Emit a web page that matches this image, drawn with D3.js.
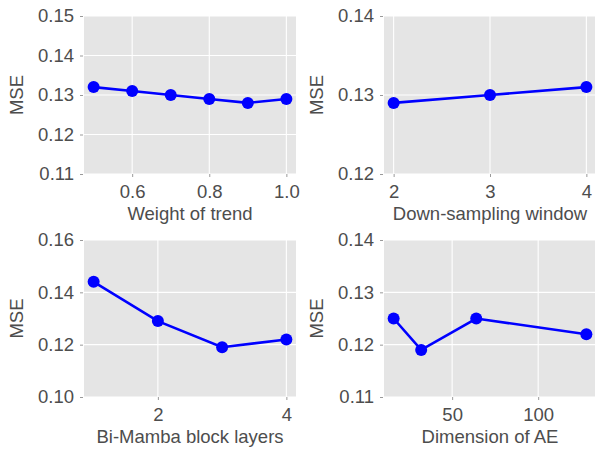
<!DOCTYPE html>
<html>
<head>
<meta charset="utf-8">
<script src="https://cdn.jsdelivr.net/npm/d3@7"></script>
<style>
  body { margin: 0; background: #fff; }
  text { font-family: "Liberation Sans", Arial, sans-serif; }
</style>
</head>
<body>
<svg id="drawing_region"></svg>
<script>
// data
const trend_x = [0.5, 0.6, 0.7, 0.8, 0.9, 1.0];
const trend_y = [0.132, 0.131, 0.130, 0.129, 0.128, 0.129];
const window_x = [2, 3, 4];
const window_y = [0.129, 0.130, 0.131];
const layers_x = [1, 2, 3, 4];
const layers_y = [0.144, 0.129, 0.119, 0.122];
const ae_x = [16, 32, 64, 128];
const ae_y = [0.125, 0.119, 0.125, 0.122];

const trend_xticks = [0.6, 0.8, 1.0];
const trend_yticks = [0.11, 0.12, 0.13, 0.14, 0.15];
const window_xticks = [2, 3, 4];
const window_yticks = [0.12, 0.13, 0.14];
const layers_xticks = [2, 4];
const layers_yticks = [0.10, 0.12, 0.14, 0.16];
const ae_xticks = [50, 100];
const ae_yticks = [0.11, 0.12, 0.13, 0.14];

const svg = d3.select('#drawing_region')
    .attr('width', 595)
    .attr('height', 449);

const panels = [
    {xs: trend_x, ys: trend_y, xticks: trend_xticks, yticks: trend_yticks,
     xfmt: d3.format('.1f'), yfmt: d3.format('.2f'), label: 'Weight of trend',
     left: 84, top: 16, width: 212, height: 158},
    {xs: window_x, ys: window_y, xticks: window_xticks, yticks: window_yticks,
     xfmt: d3.format('d'), yfmt: d3.format('.2f'), label: 'Down-sampling window',
     left: 384, top: 16, width: 212, height: 158},
    {xs: layers_x, ys: layers_y, xticks: layers_xticks, yticks: layers_yticks,
     xfmt: d3.format('d'), yfmt: d3.format('.2f'), label: 'Bi-Mamba block layers',
     left: 84, top: 240, width: 212, height: 157},
    {xs: ae_x, ys: ae_y, xticks: ae_xticks, yticks: ae_yticks,
     xfmt: d3.format('d'), yfmt: d3.format('.2f'), label: 'Dimension of AE',
     left: 384, top: 240, width: 212, height: 157}
];

const font = '"Liberation Sans", Arial, sans-serif';

panels.forEach(p => {
    const g = svg.append('g')
        .attr('transform', `translate(${p.left}, ${p.top})`);

    // ggplot style 5% expansion on x, none on y
    const xext = d3.extent(p.xs);
    const pad = (xext[1] - xext[0]) * 0.05;
    const xscale = d3.scaleLinear()
        .domain([xext[0] - pad, xext[1] + pad])
        .range([0, p.width]);
    const yscale = d3.scaleLinear()
        .domain(d3.extent(p.yticks))
        .range([p.height, 0]);

    g.append('rect')
        .attr('width', p.width)
        .attr('height', p.height)
        .attr('fill', '#e5e5e5');

    g.selectAll('.hgrid')
        .data(p.yticks)
        .enter()
        .append('line')
        .attr('x1', 0)
        .attr('x2', p.width)
        .attr('y1', d => yscale(d))
        .attr('y2', d => yscale(d))
        .attr('stroke', '#fff')
        .attr('stroke-width', 1.1);

    g.selectAll('.vgrid')
        .data(p.xticks)
        .enter()
        .append('line')
        .attr('x1', d => xscale(d))
        .attr('x2', d => xscale(d))
        .attr('y1', 0)
        .attr('y2', p.height)
        .attr('stroke', '#fff')
        .attr('stroke-width', 1.1);

    const xaxis = d3.axisBottom(xscale)
        .tickValues(p.xticks)
        .tickFormat(p.xfmt)
        .tickSize(3)
        .tickPadding(8);
    const yaxis = d3.axisLeft(yscale)
        .tickValues(p.yticks)
        .tickFormat(p.yfmt)
        .tickSize(3)
        .tickPadding(6);

    const xg = g.append('g')
        .attr('transform', `translate(0, ${p.height})`)
        .call(xaxis);
    const yg = g.append('g')
        .attr('transform', 'translate(-1, 0)')
        .call(yaxis);

    [xg, yg].forEach(a => {
        a.attr('font-family', font);
        a.select('.domain').remove();
        a.selectAll('line').attr('stroke', '#9a9a9a');
        a.selectAll('text')
            .attr('fill', '#4d4d4d')
            .attr('font-size', '18.5px');
    });

    g.append('text')
        .attr('x', p.width / 2)
        .attr('y', p.height + 46)
        .attr('text-anchor', 'middle')
        .attr('fill', '#4d4d4d')
        .attr('font-size', '18.5px')
        .text(p.label);

    g.append('text')
        .attr('transform', `translate(-61, ${p.height / 2}) rotate(-90)`)
        .attr('text-anchor', 'middle')
        .attr('fill', '#4d4d4d')
        .attr('font-size', '18.5px')
        .text('MSE');

    const pts = p.xs.map((x, i) => [x, p.ys[i]]);

    g.append('path')
        .datum(pts)
        .attr('fill', 'none')
        .attr('stroke', '#0000ff')
        .attr('stroke-width', 2.6)
        .attr('d', d3.line()
            .x(d => xscale(d[0]))
            .y(d => yscale(d[1])));

    g.selectAll('circle')
        .data(pts)
        .enter()
        .append('circle')
        .attr('cx', d => xscale(d[0]))
        .attr('cy', d => yscale(d[1]))
        .attr('r', 6)
        .attr('fill', '#0000ff');
});
</script>
</body>
</html>
